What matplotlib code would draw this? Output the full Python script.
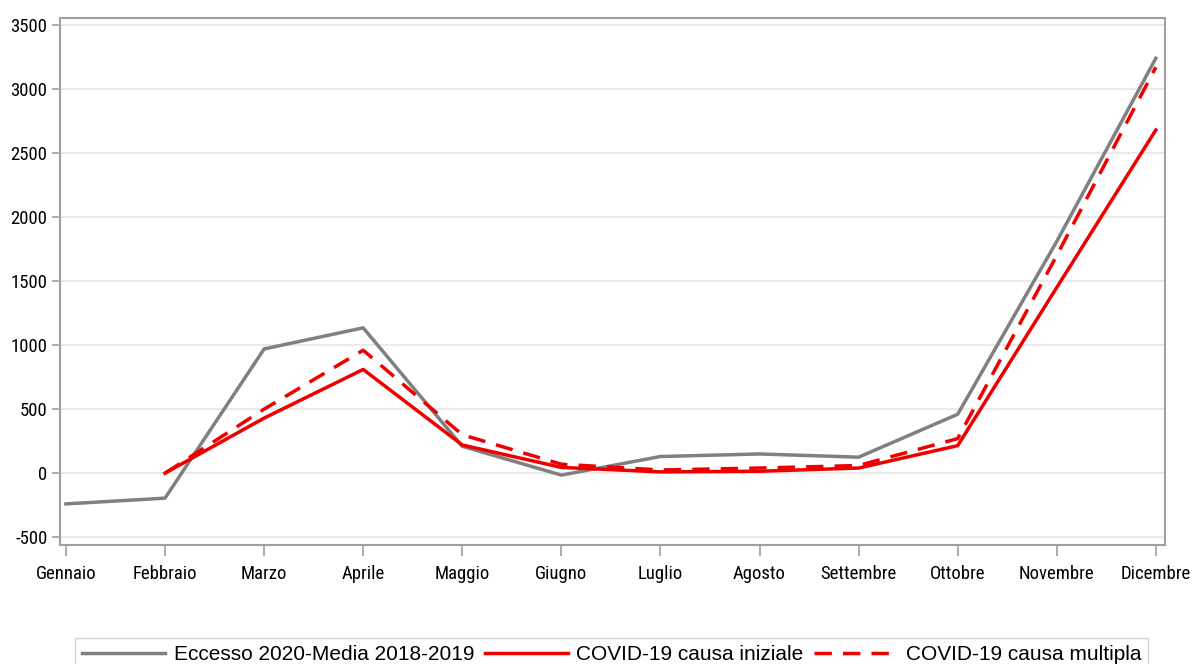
import matplotlib
matplotlib.use("Agg")
import matplotlib.pyplot as plt
from matplotlib import font_manager

# data
mesi = ["Gennaio", "Febbraio", "Marzo", "Aprile", "Maggio", "Giugno",
        "Luglio", "Agosto", "Settembre", "Ottobre", "Novembre", "Dicembre"]
eccesso = [-240, -195, 970, 1135, 210, -15, 130, 150, 125, 460, 1810, 3240]
covid_iniziale = [None, 0, 430, 810, 220, 45, 10, 15, 40, 215, 1450, 2680]
covid_multipla = [None, 0, 500, 960, 300, 70, 25, 40, 60, 270, 1700, 3170]
y_ticks = [-500, 0, 500, 1000, 1500, 2000, 2500, 3000, 3500]

# narrow font for the tick labels if one is around
names = sorted({f.name for f in font_manager.fontManager.ttflist})
narrow = None
for cand in ["Liberation Sans Narrow", "Roboto Condensed", "Open Sans Condensed", "DejaVu Sans Condensed"]:
    if cand in names:
        narrow = cand
        break

plt.rcParams["font.family"] = ["Liberation Sans", "DejaVu Sans"]
plt.rcParams["axes.unicode_minus"] = False

fig = plt.figure(figsize=(11.95, 6.64), dpi=100)
ax = fig.add_axes([0.0502, 0.179, 0.9245, 0.794])

x = list(range(len(mesi)))
ax.plot(x, eccesso, color="#808080", lw=2.5, label="Eccesso 2020-Media 2018-2019")
ax.plot(x[1:], covid_iniziale[1:], color="#ee0000", lw=2.5, label="COVID-19 causa iniziale")
ax.plot(x[1:], covid_multipla[1:], color="#ee0000", lw=2.5, ls=(0, (5, 3.2)),
        label="COVID-19 causa multipla")

ax.set_xlim(-0.06, 11.09)
ax.set_ylim(-562, 3555)
ax.set_xticks(x)
ax.set_yticks(y_ticks)
tick_font = [narrow, "Liberation Sans"] if narrow else ["Liberation Sans"]
tick_size = 13.5 if narrow else 12.5
ax.set_xticklabels(mesi, family=tick_font, fontsize=tick_size)
ax.set_yticklabels([str(v) for v in y_ticks], family=tick_font, fontsize=tick_size)
ax.grid(axis="y", color="#e6e6e6", lw=1.2)
ax.set_axisbelow(True)
for s in ax.spines.values():
    s.set_color("#a0a0a0")
    s.set_linewidth(1.5)
ax.tick_params(axis="x", length=8, color="#a0a0a0", width=1.2, pad=6)
ax.tick_params(axis="y", length=6, color="#a0a0a0", width=1.2, pad=3)

leg = fig.legend(loc="upper center", bbox_to_anchor=(611.5 / 1195, 0.039), ncol=3,
                 frameon=True, fancybox=False, fontsize=15, handlelength=4.0,
                 columnspacing=0.5, handletextpad=0.4, borderpad=0.35,
                 borderaxespad=0)
leg.get_frame().set_edgecolor("#c8c8c8")
leg.get_frame().set_linewidth(1.0)

fig.savefig("out.png", dpi=100)
